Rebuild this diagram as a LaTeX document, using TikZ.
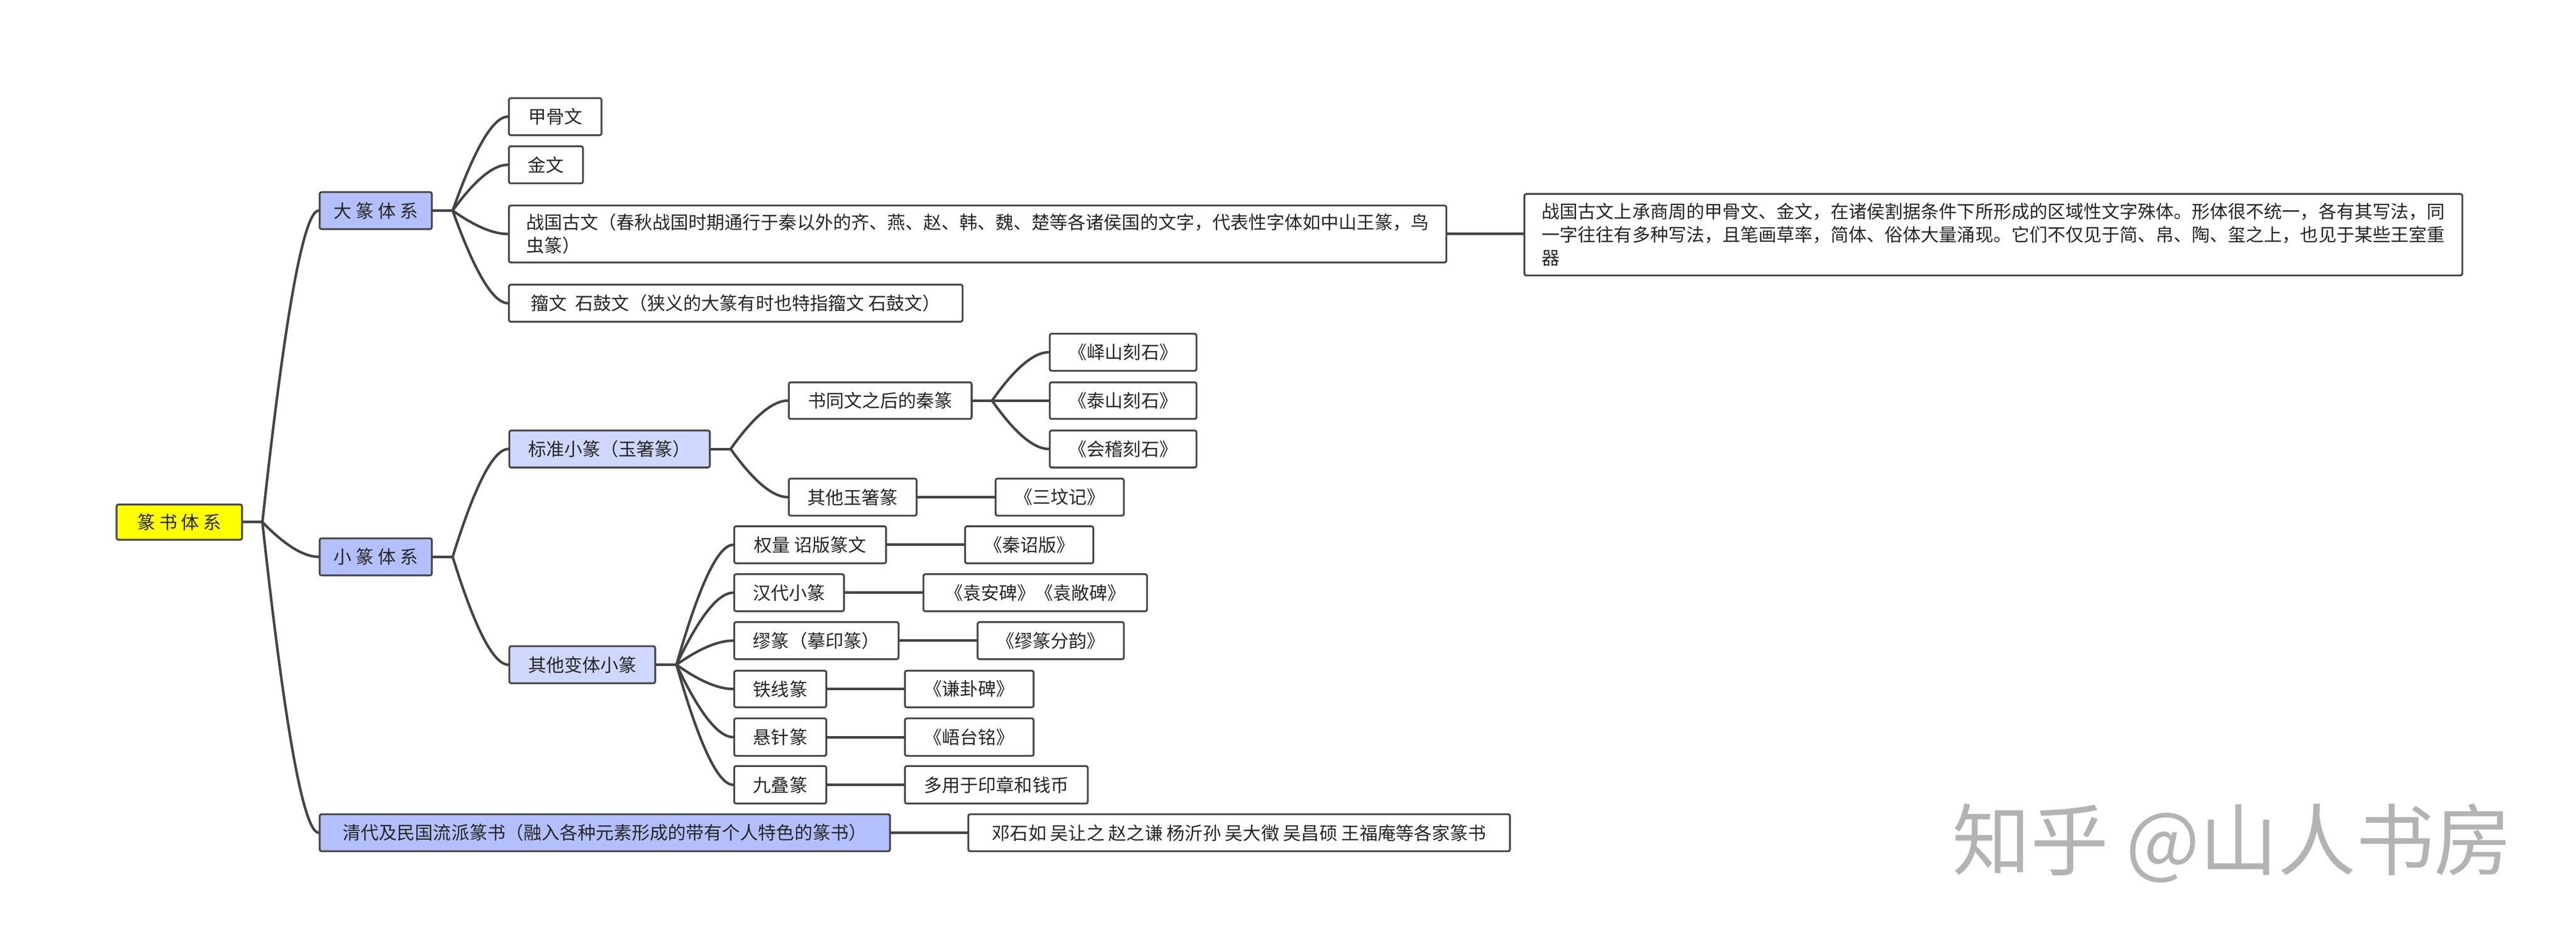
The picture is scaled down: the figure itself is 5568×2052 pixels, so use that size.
\documentclass[tikz,border=0pt]{standalone}
\usepackage{fontspec}
\setmainfont{Noto Sans CJK SC}
\usetikzlibrary{calc}
\definecolor{lineC}{HTML}{444444}
\definecolor{borderC}{HTML}{474747}
\definecolor{yel}{HTML}{FFFF00}
\definecolor{blueA}{HTML}{B4C0FD}
\definecolor{blueB}{HTML}{CFD7FC}
\definecolor{wm}{HTML}{B3B3B3}
\tikzset{
  box/.style={draw=borderC, line width=0.04cm, rounded corners=0.04cm, fill=white,
    anchor=west, inner xsep=0.3cm, inner ysep=0cm, minimum height=0.8cm,
    font=\fontsize{11.1pt}{14.2pt}\selectfont, text=black!85},
  rootbox/.style={box, fill=yel},
  bluebox/.style={box, fill=blueA},
  lightbox/.style={box, fill=blueB},
  conn/.style={draw=lineC, line width=0.055cm, line cap=round},
  branch/.style={to path={let \p1=(\tikztostart), \p2=(\tikztotarget) in
     .. controls ({\x1+0.4*(\x2-\x1)},{\y1+0.667*(\y2-\y1)}) and ({\x2-0.267*(\x2-\x1)},{\y2}) .. (\tikztotarget)}}
}
\begin{document}
\begin{tikzpicture}[x=0.01cm, y=-0.01cm]
\useasboundingbox (0,0) rectangle (5568,2052);
% level 0
\node[rootbox, minimum width=2.71cm, minimum height=0.76cm] (root) at (250,1128) {篆 书 体 系};
% level 1
\node[bluebox, minimum width=2.4cm] (dz) at (689,455) {大 篆 体 系};
\node[bluebox, minimum width=2.4cm] (xz) at (689,1203) {小 篆 体 系};
\node[bluebox, minimum width=12.32cm] (qd) at (689,1799) {清代及民国流派篆书（融入各种元素形成的带有个人特色的篆书）};
% 大篆 children
\node[box, minimum width=2.0cm] (jgw) at (1098,252) {甲骨文};
\node[box, minimum width=1.6cm] (jw) at (1098,356) {金文};
\node[box, minimum width=20.25cm, minimum height=1.23cm, align=left, inner xsep=0.35cm] (zg) at (1098,505.5)
  {战国古文（春秋战国时期通行于秦以外的齐、燕、赵、韩、魏、楚等各诸侯国的文字，代表性字体如中山王篆，鸟\\虫篆）};
\node[box, minimum width=9.8cm] (zw) at (1098,655) {籀文\ \ 石鼓文（狭义的大篆有时也特指籀文 石鼓文）};
\node[box, minimum width=20.26cm, minimum height=1.76cm, align=left, inner xsep=0.35cm] (zgd) at (3293,507)
  {战国古文上承商周的甲骨文、金文，在诸侯割据条件下所形成的区域性文字殊体。形体很不统一，各有其写法，同\\
   一字往往有多种写法，且笔画草率，简体、俗体大量涌现。它们不仅见于简、帛、陶、玺之上，也见于某些王室重\\
   器};
% 小篆 children
\node[lightbox, minimum width=4.33cm] (bz) at (1099,970) {标准小篆（玉箸篆）};
\node[lightbox, minimum width=3.15cm] (qt) at (1099,1436) {其他变体小篆};
\node[box, minimum width=3.95cm, minimum height=0.79cm] (sty) at (1703,865.5) {书同文之后的秦篆};
\node[box, minimum width=2.76cm] (qtyz) at (1703,1074) {其他玉箸篆};
\node[box, minimum width=3.17cm] (ys) at (2267,761) {《峄山刻石》};
\node[box, minimum width=3.17cm, minimum height=0.79cm] (ts) at (2267,865.5) {《泰山刻石》};
\node[box, minimum width=3.17cm] (kj) at (2267,970) {《会稽刻石》};
\node[box, minimum width=2.77cm] (sfj) at (2150,1074) {《三坟记》};
\node[box, minimum width=3.28cm] (ql) at (1585,1177) {权量 诏版篆文};
\node[box, minimum width=2.77cm] (qzb) at (2084,1177) {《秦诏版》};
\node[box, minimum width=2.37cm] (hd) at (1585,1280.5) {汉代小篆};
\node[box, minimum width=4.83cm] (ya) at (1994,1280.5) {《袁安碑》《袁敞碑》};
\node[box, minimum width=3.55cm] (mz) at (1585,1384) {缪篆（摹印篆）};
\node[box, minimum width=3.16cm] (mzfy) at (2111,1384) {《缪篆分韵》};
\node[box, minimum width=1.99cm, minimum height=0.79cm] (txz) at (1585,1488.5) {铁线篆};
\node[box, minimum width=2.78cm, minimum height=0.79cm] (qgb) at (1954,1488.5) {《谦卦碑》};
\node[box, minimum width=1.99cm, minimum height=0.81cm] (xzz) at (1585,1592.5) {悬针篆};
\node[box, minimum width=2.78cm, minimum height=0.81cm] (wtm) at (1954,1592.5) {《峿台铭》};
\node[box, minimum width=1.99cm, minimum height=0.81cm] (jdzh) at (1585,1695.5) {九叠篆};
\node[box, minimum width=3.95cm, minimum height=0.81cm] (yz) at (1954,1695.5) {多用于印章和钱币};
\node[box, minimum width=11.7cm] (qdr) at (2091,1799) {邓石如 吴让之 赵之谦 杨沂孙 吴大徵 吴昌硕 王福庵等各家篆书};
% junctions
\coordinate (J-root) at ($(root.east)+(42,0)$);
\coordinate (J-dz) at ($(dz.east)+(43,0)$);
\coordinate (J-xz) at ($(xz.east)+(43,0)$);
\coordinate (J-bz) at ($(bz.east)+(43,0)$);
\coordinate (J-sty) at ($(sty.east)+(42,0)$);
\coordinate (J-qt) at ($(qt.east)+(44,0)$);
% connectors
\draw[conn] (root.east) -- (J-root);
\draw[conn] (J-root) to[branch] (dz.west);
\draw[conn] (J-root) to[branch] (xz.west);
\draw[conn] (J-root) to[branch] (qd.west);
\draw[conn] (dz.east) -- (J-dz);
\draw[conn] (J-dz) to[branch] (jgw.west);
\draw[conn] (J-dz) to[branch] (jw.west);
\draw[conn] (J-dz) to[branch] (zg.west);
\draw[conn] (J-dz) to[branch] (zw.west);
\draw[conn] (zg.east) -- (zg.east -| zgd.west);
\draw[conn] (xz.east) -- (J-xz);
\draw[conn] (J-xz) to[branch] (bz.west);
\draw[conn] (J-xz) to[branch] (qt.west);
\draw[conn] (bz.east) -- (J-bz);
\draw[conn] (J-bz) to[branch] (sty.west);
\draw[conn] (J-bz) to[branch] (qtyz.west);
\draw[conn] (sty.east) -- (J-sty);
\draw[conn] (J-sty) to[branch] (ys.west);
\draw[conn] (J-sty) to[branch] (ts.west);
\draw[conn] (J-sty) to[branch] (kj.west);
\draw[conn] (qtyz.east) -- (sfj.west);
\draw[conn] (qt.east) -- (J-qt);
\draw[conn] (J-qt) to[branch] (ql.west);
\draw[conn] (J-qt) to[branch] (hd.west);
\draw[conn] (J-qt) to[branch] (mz.west);
\draw[conn] (J-qt) to[branch] (txz.west);
\draw[conn] (J-qt) to[branch] (xzz.west);
\draw[conn] (J-qt) to[branch] (jdzh.west);
\draw[conn] (ql.east) -- (qzb.west);
\draw[conn] (hd.east) -- (ya.west);
\draw[conn] (mz.east) -- (mzfy.west);
\draw[conn] (txz.east) -- (qgb.west);
\draw[conn] (xzz.east) -- (wtm.west);
\draw[conn] (jdzh.east) -- (yz.west);
\draw[conn] (qd.east) -- (qdr.west);
% watermark
\node[text=wm, inner sep=0, font=\fontsize{48pt}{50pt}\selectfont] (wmk) at (4825,1822) {知乎 @山人书房};
\end{tikzpicture}
\end{document}
